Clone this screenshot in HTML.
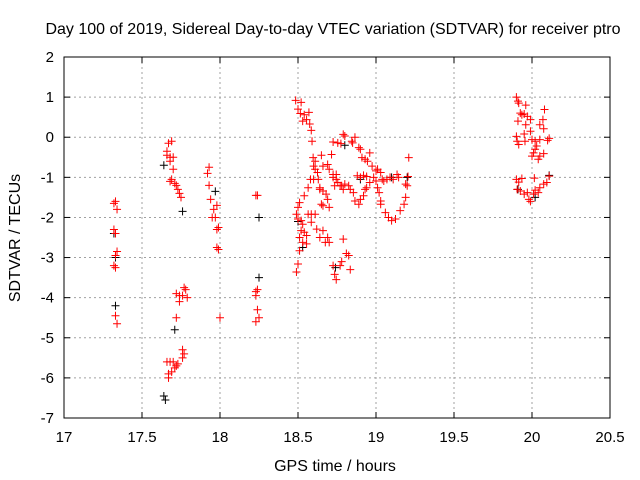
<!DOCTYPE html>
<html><head><meta charset="utf-8"><style>
body{margin:0;background:#fff}
svg{display:block;font-family:"Liberation Sans",sans-serif}
</style></head><body>
<svg id="chart" width="640" height="480"></svg>
<script>
const xTicks=[17,17.5,18,18.5,19,19.5,20,20.5];
const yTicks=[2,1,0,-1,-2,-3,-4,-5,-6,-7];
const blackX=[17.33,17.33,17.32,17.64,17.76,17.71,17.64,17.65,17.97,18.25,18.25,18.5,18.53,18.74,18.8,19.2,19.1,18.9,20.11,19.91,20.02];
const blackY=[-4.2,-3.0,-2.4,-0.7,-1.85,-4.8,-6.45,-6.55,-1.35,-2.0,-3.5,-2.1,-2.75,-3.25,-0.2,-1.0,-1.0,-1.05,-0.95,-1.3,-1.5];
const redX=[17.33,17.32,17.34,17.32,17.33,17.34,17.33,17.32,17.33,17.33,17.34,
17.67,17.69,17.66,17.66,17.68,17.68,17.7,17.7,17.69,17.71,17.68,17.72,17.73,17.74,17.75,
17.72,17.74,17.76,17.78,17.77,17.79,17.74,17.72,17.76,17.77,17.76,17.66,17.68,17.7,17.73,17.72,17.71,17.69,17.67,17.67,
17.93,17.92,17.93,17.94,17.98,17.96,17.95,17.97,17.99,17.98,17.98,17.99,18.0,
18.24,18.23,18.24,18.23,18.23,18.24,18.25,18.23,
18.485,18.52,18.5,18.515,18.54,18.57,18.53,18.555,18.575,18.585,18.59,
18.725,18.755,18.775,18.79,18.8,18.845,18.85,18.865,18.89,18.9,18.91,18.93,18.945,18.96,18.975,19.0,19.01,19.03,19.04,19.05,19.07,19.09,19.11,19.135,19.145,19.19,19.2,19.205,19.21,19.19,19.18,19.155,19.125,19.1,19.08,19.06,19.03,19.03,19.02,19.01,
18.597,18.61,18.625,18.65,18.66,18.69,18.7,18.715,18.6,18.58,18.565,18.63,18.64,18.66,18.68,18.69,18.65,18.66,18.7,18.725,18.745,18.755,18.78,18.79,18.8,18.825,18.835,18.855,18.865,18.89,18.9,18.92,18.93,18.94,18.96,18.985,19.0,18.9,18.88,18.92,18.94,18.64,
18.54,18.51,18.5,18.49,18.5,18.52,18.53,18.52,18.54,18.51,18.555,18.53,18.555,18.565,18.585,18.61,18.585,18.62,18.66,18.64,18.675,18.69,18.7,18.51,18.5,18.49,18.79,18.81,18.825,18.78,18.77,18.725,18.735,18.745,18.835,18.6,18.61,18.725,18.745,18.735,18.77,
19.9,19.91,19.915,19.96,19.925,19.935,19.95,19.97,19.99,19.91,19.96,20.08,20.07,20.05,20.075,19.95,19.99,19.9,19.905,19.915,19.955,20.0,20.02,20.03,20.05,20.1,20.11,20.02,20.01,20.0,20.05,20.075,20.04,
19.9,19.915,19.935,19.905,19.925,19.95,19.97,19.98,19.99,20.01,20.02,20.04,20.05,20.075,20.095,20.11,20.015];
const redY=[-1.6,-1.65,-1.8,-2.3,-2.4,-2.85,-2.95,-3.2,-3.25,-4.45,-4.65,
-0.15,-0.1,-0.35,-0.45,-0.5,-0.6,-0.8,-0.5,-1.05,-1.15,-1.1,-1.2,-1.3,-1.4,-1.5,
-3.9,-3.95,-3.95,-3.8,-3.75,-4.0,-4.1,-4.5,-5.3,-5.4,-5.5,-5.6,-5.6,-5.6,-5.65,-5.7,-5.75,-5.85,-5.9,-6.0,
-0.75,-0.9,-1.2,-1.55,-1.7,-1.8,-2.0,-2.0,-2.25,-2.3,-2.75,-2.8,-4.5,
-1.45,-1.45,-3.8,-3.85,-3.95,-4.3,-4.5,-4.6,
0.92,0.87,0.7,0.59,0.56,0.62,0.4,0.44,0.33,0.17,-0.1,
-0.12,-0.14,-0.16,0.07,0.03,-0.1,-0.14,0.0,-0.26,-0.3,-0.51,-0.55,-0.6,-0.39,-0.72,-0.84,-0.8,-0.88,-1.05,-1.09,-1.05,-1.0,-1.05,-0.93,-1.0,-1.17,-1.21,-0.98,-0.51,-1.5,-1.67,-1.83,-2.04,-2.08,-2.0,-1.88,-1.67,-1.59,-1.38,-1.26,
-0.51,-0.8,-0.88,-0.45,-0.72,-0.68,-0.8,-0.43,-1.05,-1.05,-1.26,-1.05,-1.26,-1.34,-1.42,-1.55,-1.67,-1.71,-1.75,-1.0,-1.05,-1.13,-1.21,-1.3,-1.17,-1.21,-1.3,-1.38,-1.59,-1.67,-1.55,-1.46,-1.3,-1.26,-1.13,-1.0,-1.09,-1.0,-0.96,-0.95,-0.98,-1.3,
-1.46,-1.63,-1.75,-1.92,-2.04,-2.08,-2.17,-2.33,-2.37,-2.5,-2.45,-2.62,-2.66,-1.92,-1.92,-1.92,-2.12,-2.29,-2.33,-2.5,-2.62,-2.5,-2.62,-2.83,-3.16,-3.36,-2.54,-2.9,-2.95,-3.1,-3.2,-3.2,-3.42,-3.55,-3.3,-0.72,-0.6,-0.93,-0.93,-1.21,-1.21,
1.0,0.9,0.85,0.8,0.6,0.56,0.58,0.52,0.44,0.4,0.31,0.69,0.44,0.31,0.21,0.08,0.15,0.02,-0.1,-0.18,-0.1,-0.06,-0.1,-0.22,-0.06,-0.08,-0.03,-0.3,-0.39,-0.47,-0.47,-0.41,-0.55,
-1.05,-1.12,-1.03,-1.3,-1.34,-1.42,-1.38,-1.55,-1.6,-1.42,-1.32,-1.38,-1.26,-1.17,-1.13,-0.97,-1.02];
const NS='http://www.w3.org/2000/svg';
const svg=document.getElementById('chart');
const L=64,R=610,T=57,B=418;
const xS=v=>L+(v-17)/3.5*(R-L);
const yS=v=>T+(2-v)/9*(B-T);
function mk(tag,attrs,parent){const e=document.createElementNS(NS,tag);for(const k in attrs)e.setAttribute(k,attrs[k]);(parent||svg).appendChild(e);return e;}
const grid=mk('g',{});


xTicks.forEach(t=>{const x=xS(t);
 if(t>17&&t<20.5){const g=mk('line',{x1:x,x2:x,y1:T,y2:B,stroke:'#a0a0a0','stroke-dasharray':'2,3','stroke-width':1},grid);}
 mk('line',{x1:x,x2:x,y1:B,y2:B-6,stroke:'#000'});mk('line',{x1:x,x2:x,y1:T,y2:T+6,stroke:'#000'});
 const tx=mk('text',{x:x,y:B+24,'text-anchor':'middle','font-size':15});tx.textContent=t;
 
 
});
yTicks.forEach(t=>{const y=yS(t);
 if(t<2&&t>-7){const g=mk('line',{x1:L,x2:R,y1:y,y2:y,stroke:'#a0a0a0','stroke-dasharray':'2,3','stroke-width':1},grid);}
 mk('line',{x1:L,x2:L+6,y1:y,y2:y,stroke:'#000'});mk('line',{x1:R,x2:R-6,y1:y,y2:y,stroke:'#000'});
 const tx=mk('text',{x:L-10,y:y+5,'text-anchor':'end','font-size':15});tx.textContent=t;
 
 
});
const frame=mk('rect',{x:L,y:T,width:R-L,height:B-T,fill:'none',stroke:'#000'});


function plus(xs,ys,color,name){
 const g=mk('g',{stroke:color,'stroke-width':1});
 
 
 xs.forEach((v,i)=>{const x=xS(v),y=yS(ys[i]);
  const p=mk('path',{d:`M${x-4} ${y}H${x+4}M${x} ${y-4}V${y+4}`},g);
  
  
 });
}
plus(blackX,blackY,'#000','black-series');
plus(redX,redY,'#ff0000','red-series');
const title=mk('text',{x:333,y:34,'text-anchor':'middle','font-size':16});
title.textContent='Day 100 of 2019, Sidereal Day-to-day VTEC variation (SDTVAR) for receiver ptro';


const xl=mk('text',{x:335,y:471,'text-anchor':'middle','font-size':16});
xl.textContent='GPS time / hours';


const yl=mk('text',{x:0,y:0,'text-anchor':'middle','font-size':16,transform:'translate(20,238) rotate(-90)'});
yl.textContent='SDTVAR / TECUs';


</script>
</body></html>
